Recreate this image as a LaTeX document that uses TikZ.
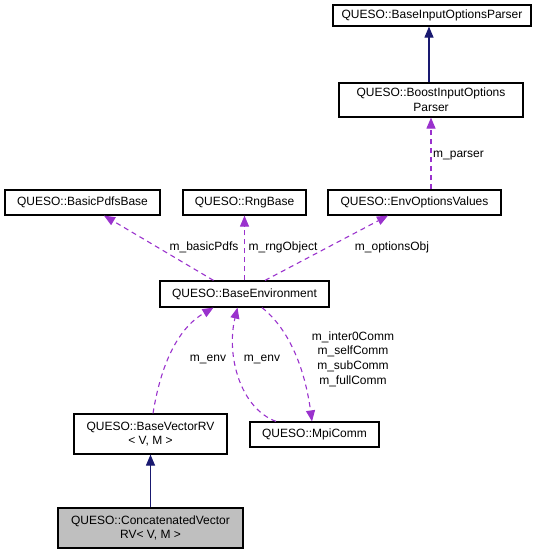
\documentclass[tikz,border=0pt]{standalone}
\usepackage{fontspec}
\setmainfont{Liberation Sans}
\usetikzlibrary{arrows.meta}
\definecolor{usecol}{HTML}{9A32CD}
\definecolor{inhcol}{HTML}{191970}
\definecolor{curcol}{HTML}{BFBFBF}

\begin{document}
\begin{tikzpicture}[x=1pt,y=-1pt,
    font=\fontsize{12}{14.7}\selectfont,
    cls/.style={draw,line width=1.2pt,rectangle,align=center,inner sep=0pt},
    use/.style={draw=usecol,line width=1.1pt,dash pattern=on 5pt off 4pt,
      -{Triangle[length=11pt,width=9pt,fill=usecol]}},
    inh/.style={draw=inhcol,line width=1.1pt,
      -{Triangle[length=11pt,width=9pt,fill=inhcol]}},
    lbl/.style={inner sep=0pt}]
  \useasboundingbox (0,0) rectangle (541,555);
  % classes
  \node [cls,minimum width=198pt,minimum height=21pt] (bip) at (432,15.5) {QUESO::BaseInputOptionsParser};
  \node [cls,minimum width=184pt,minimum height=34pt] (boost) at (431,100) {QUESO::BoostInputOptions\\Parser};
  \node [cls,minimum width=173pt,minimum height=25pt] (envopt) at (414.5,202.5) {QUESO::EnvOptionsValues};
  \node [cls,minimum width=123pt,minimum height=25pt] (rng) at (244.5,202.5) {QUESO::RngBase};
  \node [cls,minimum width=155pt,minimum height=25pt] (pdfs) at (82.5,202.5) {QUESO::BasicPdfsBase};
  \node [cls,minimum width=169pt,minimum height=26pt] (env) at (244.5,294) {QUESO::BaseEnvironment};
  \node [cls,minimum width=153pt,minimum height=40pt] (bvrv) at (150.5,434) {QUESO::BaseVectorRV\\\textless{} V, M \textgreater{}};
  \node [cls,minimum width=129pt,minimum height=25pt] (mpi) at (314.5,434.5) {QUESO::MpiComm};
  \node [cls,fill=curcol,minimum width=185pt,minimum height=40pt] (cvrv) at (150.5,528) {QUESO::ConcatenatedVector\\RV\textless{} V, M \textgreater{}};
  % inheritance
  \draw [inh] ([xshift=-2pt]boost.north) -- ([xshift=-3pt]bip.south);
  \draw [inh] (cvrv.north) -- (bvrv.south);
  % usage
  \draw [use] ([xshift=16.5pt]envopt.north) -- (boost.south);
  \draw [use] ([xshift=-31pt]env.north) -- ([xshift=21.5pt]pdfs.south);
  \draw [use] (env.north) -- (rng.south);
  \draw [use] ([xshift=20.5pt]env.north) -- ([xshift=-26.5pt]envopt.south);
  \draw [use] ([xshift=2.5pt]bvrv.north) .. controls (160,370) and (175,330) .. ([xshift=-31pt]env.south);
  \draw [use] ([xshift=-38.5pt]mpi.north) .. controls (240,408) and (226,355) .. ([xshift=-7pt]env.south);
  \draw [use] ([xshift=17.5pt]env.south) .. controls (290,330) and (305,370) .. ([xshift=-2.5pt]mpi.north);
  % labels
  \node [lbl,anchor=west] (lparser) at (433,156) {m\_parser};
  \node [lbl] (lpdfs) at (204,247) {m\_basicPdfs};
  \node [lbl] (lrng) at (283,247) {m\_rngObject};
  \node [lbl] (lopt) at (392,247) {m\_optionsObj};
  \node [lbl] (lenva) at (208,359) {m\_env};
  \node [lbl] (lenvb) at (262,359) {m\_env};
  \node [lbl,align=center] (lcomm) at (353,359) {m\_inter0Comm\\m\_selfComm\\m\_subComm\\m\_fullComm};
\end{tikzpicture}
\end{document}
